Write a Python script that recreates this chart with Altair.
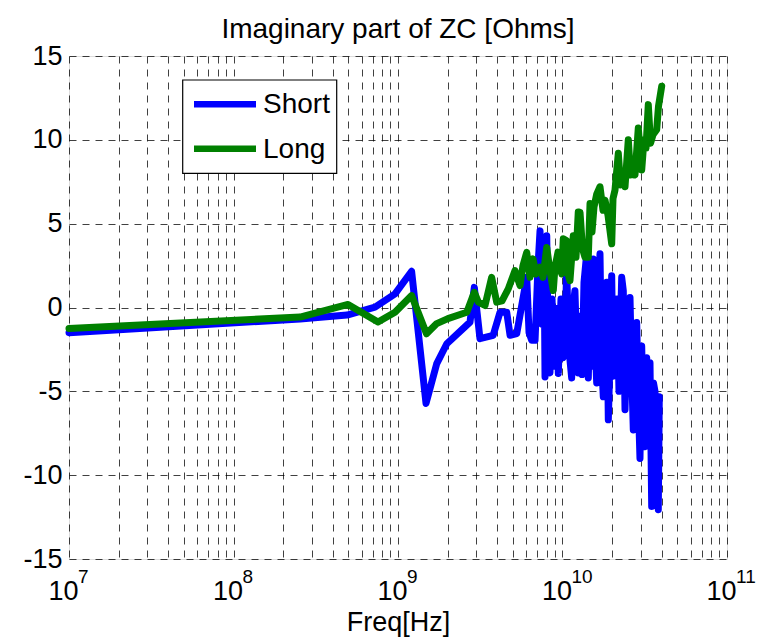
import altair as alt
import pandas as pd

# ---------------- data ----------------
short_freq = [1.0e7, 2.54e8, 4.90e8, 7.25e8, 9.59e8, 1.21e9, 1.48e9, 1.72e9, 1.98e9,
              2.74e9, 2.91e9, 3.15e9, 3.79e9, 4.17e9, 4.58e9, 4.80e9, 5.27e9,
              6.06e9, 6.26e9, 6.50e9, 6.81e9, 7.10e9, 7.30e9, 7.51e9, 7.72e9, 7.83e9,
              8.02e9, 8.22e9, 8.39e9, 8.64e9, 8.88e9, 9.22e9, 9.43e9, 9.79e9, 1.007e10,
              1.036e10, 1.06e10, 1.095e10, 1.137e10, 1.158e10, 1.19e10, 1.225e10, 1.247e10,
              1.278e10, 1.314e10, 1.351e10, 1.403e10, 1.435e10, 1.47e10, 1.501e10, 1.539e10,
              1.576e10, 1.614e10, 1.655e10, 1.69e10, 1.726e10, 1.77e10, 1.813e10, 1.857e10,
              1.899e10, 1.945e10, 1.991e10, 2.028e10, 2.085e10, 2.145e10, 2.205e10, 2.29e10,
              2.342e10, 2.399e10, 2.467e10, 2.519e10, 2.572e10, 2.627e10, 2.694e10, 2.759e10,
              2.825e10, 2.897e10, 2.958e10, 3.03e10, 3.098e10, 3.173e10, 3.25e10, 3.332e10,
              3.403e10, 3.485e10, 3.574e10, 3.65e10, 3.727e10, 3.822e10, 3.876e10]
short_val = [-1.50, -0.68, -0.45, 0.02, 0.81, 2.16, -5.72, -3.35, -2.16,
             -0.87, 1.20, -1.86, -1.66, -0.28, -0.28, -1.66, -1.56,
             1.80, -1.50, -1.96, -1.96, 2.50, 4.57, -1.00, 3.80, -4.14,
             4.28, -3.50, -3.90, 0.50, -3.50, -0.06, -3.93, 0.50, -3.00,
             -1.50, 2.20, -2.50, -4.20, 0.00, 1.00, -3.00, -3.90,
             -0.50, -4.00, 1.50, 3.20, -4.20, 0.50, -3.50, 2.90,
             -2.00, -4.50, 1.00, 3.20, -3.00, -5.33, 0.50, 1.50,
             -6.70, -3.00, 1.90, -4.10, -4.00, 0.50, -5.00, 1.80,
             1.00, -6.10, -1.50, -5.00, 0.60, -3.50, -7.30, -2.00,
             -0.90, -6.00, -9.00, -2.30, -7.00, -8.30, -3.00, -6.50,
             -3.30, -11.87, -4.50, -5.00, -11.00, -12.06, -5.33]

long_freq = [1.0e7, 2.54e8, 4.97e8, 7.56e8, 9.59e8, 1.21e9, 1.49e9, 1.72e9, 2.01e9,
             2.62e9, 2.91e9, 3.08e9, 3.38e9, 3.71e9, 3.98e9, 4.29e9,
             4.68e9, 5.14e9, 5.52e9, 5.75e9, 6.06e9, 6.34e9, 6.62e9, 6.90e9, 7.30e9,
             7.61e9, 8.02e9, 8.39e9, 8.79e9, 9.00e9, 9.39e9, 9.66e9, 9.89e9, 1.011e10,
             1.06e10, 1.08e10, 1.11e10, 1.163e10, 1.208e10, 1.247e10, 1.278e10, 1.323e10,
             1.37e10, 1.435e10, 1.47e10, 1.511e10, 1.554e10, 1.614e10, 1.69e10, 1.763e10,
             1.813e10, 1.891e10, 1.991e10, 2.028e10, 2.085e10, 2.184e10, 2.252e10, 2.332e10,
             2.399e10, 2.512e10, 2.591e10, 2.683e10, 2.759e10, 2.889e10, 3.03e10, 3.129e10,
             3.218e10, 3.323e10, 3.428e10, 3.55e10, 3.737e10, 3.833e10, 4.009e10]
long_val = [-1.25, -0.57, 0.18, -0.87, -0.28, 0.71, -1.57, -0.96, -0.66,
            -0.28, 0.91, 0.32, 0.12, 1.80, 0.32, 0.40,
            1.11, 2.20, 1.31, 2.50, 3.29, 1.80, 2.90, 2.00, 2.40,
            1.80, 3.58, 2.20, 1.01, 2.40, 3.30, 2.40, 2.00, 4.10,
            3.98, 2.00, 1.60, 4.28, 3.00, 5.70, 5.67, 3.50,
            3.00, 3.00, 6.20, 4.50, 6.00, 6.76, 7.20, 5.80,
            6.40, 5.50, 3.80, 6.50, 7.00, 9.20, 7.30, 8.00,
            7.20, 10.00, 7.90, 8.50, 7.90, 10.70, 8.20, 10.00,
            9.50, 12.10, 9.80, 10.30, 10.60, 12.00, 13.20]

series_names = ["Short", "Long"]
series_colors = ["#0000ff", "#008000"]
x_decades = [7, 8, 9, 10, 11]
y_ticks = [-15, -10, -5, 0, 5, 10, 15]
title_text = "Imaginary part of ZC [Ohms]"
x_title = "Freq[Hz]"

# ---------------- build ----------------
FONT = "Liberation Sans"

grid_vals = []
for e in x_decades[:-1]:
    for k in range(1, 10):
        grid_vals.append(float(k * 10 ** e))
grid_vals.append(float(10 ** x_decades[-1]))

expr = "''"
for e in reversed(x_decades):
    expr = f"datum.value == {10 ** e} ? '10' : ({expr})"

short_df = pd.DataFrame({"freq": short_freq, "val": short_val,
                         "series": series_names[0], "order": range(len(short_freq))})
long_df = pd.DataFrame({"freq": long_freq, "val": long_val,
                        "series": series_names[1], "order": range(len(long_freq))})
exp_df = pd.DataFrame({"freq": [float(10 ** e) for e in x_decades],
                       "exp": [str(e) for e in x_decades]})

x_scale = alt.Scale(type="log", domain=[1e7, 1e11], nice=False)
x_enc = alt.X(
    "freq:Q",
    scale=x_scale,
    axis=alt.Axis(
        values=grid_vals, labelExpr=expr, grid=True, gridDash=[7, 6],
        gridColor="black", gridOpacity=0.75, gridWidth=1,
        ticks=False, domain=False, labelFont=FONT, labelFontSize=27,
        labelColor="black", labelBaseline="alphabetic", labelPadding=40,
        labelOffset=-6,
        labelFlush=False, labelOverlap=False, labelBound=False,
        title=x_title, titleFont=FONT, titleFontSize=27, titleFontWeight="normal",
        titleColor="black", titleBaseline="alphabetic", titleY=71,
    ),
)
y_enc = alt.Y(
    "val:Q",
    scale=alt.Scale(domain=[-15, 15], nice=False, zero=False),
    axis=alt.Axis(
        values=y_ticks, labelExpr="'' + datum.value", grid=True, gridDash=[7, 6],
        gridColor="black", gridOpacity=0.75, gridWidth=1, ticks=False, domain=False,
        labelFont=FONT, labelFontSize=27, labelColor="black", labelPadding=7,
        title=None,
    ),
)

def line_layer(df, color):
    return alt.Chart(df).mark_line(
        color=color, strokeWidth=7, strokeJoin="round", strokeCap="round"
    ).encode(x=x_enc, y=y_enc, order="order:Q")

layers = [line_layer(short_df, series_colors[0]), line_layer(long_df, series_colors[1])]

# exponents of the decade tick labels (superscripts)
layers.append(
    alt.Chart(exp_df).mark_text(align="left", baseline="alphabetic", font=FONT,
                                fontSize=19, color="black", dx=9).encode(
        x=alt.X("freq:Q", scale=x_scale), y=alt.value(527), text="exp:N")
)

# legend box (MATLAB style)
box = alt.Chart(pd.DataFrame({"a": [0]})).mark_rect(
    fill="white", stroke="black", strokeWidth=1.2
).encode(x=alt.value(113.7), x2=alt.value(267.7), y=alt.value(24), y2=alt.value(117.3))
layers.append(box)

legend_rows_y = [48.3, 92.7]
for name, col, ry in zip(series_names, series_colors, legend_rows_y):
    ldf = pd.DataFrame({"label": [name]})
    layers.append(
        alt.Chart(ldf).mark_rule(color=col, strokeWidth=6.5).encode(
            x=alt.value(125), x2=alt.value(187), y=alt.value(ry))
    )
    layers.append(
        alt.Chart(ldf).mark_text(align="left", baseline="middle", font=FONT,
                                 fontSize=28, color="black").encode(
            x=alt.value(194), y=alt.value(ry + 1), text="label:N")
    )

chart = alt.layer(*layers).properties(
    width=658, height=503,
    title=alt.TitleParams(title_text, font=FONT, fontSize=28, fontWeight="normal",
                          color="black", anchor="middle", baseline="bottom",
                          offset=0, dy=30),
    autosize=alt.AutoSizeParams(type="none"),
    padding={"left": 69, "top": 56, "right": 30, "bottom": 80},
).configure_view(stroke="black", strokeWidth=1.5).configure(background="white")

chart.save("out.html", embed_options={"renderer": "svg", "actions": False})
